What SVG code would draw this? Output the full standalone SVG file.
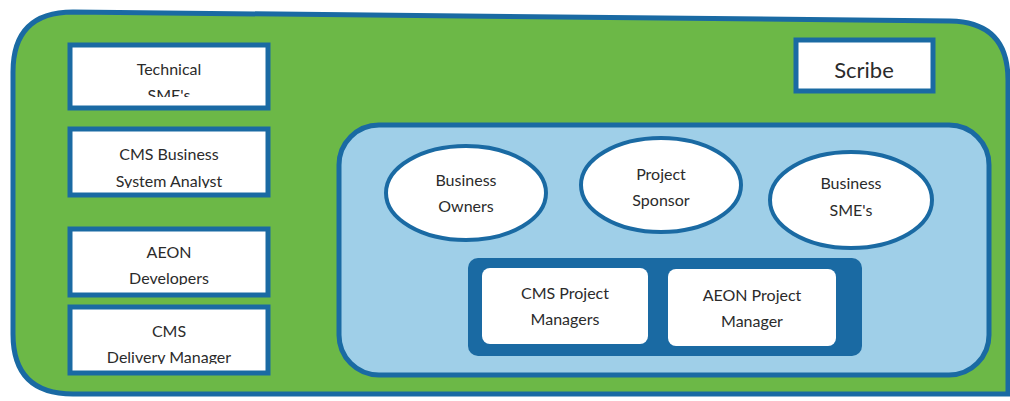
<svg xmlns="http://www.w3.org/2000/svg" width="1010" height="401" viewBox="0 0 1010 401">
  <style>
    .lbl { font-family: Lato, "Open Sans", "Liberation Sans", sans-serif; font-size: 16px; fill: #2b2b2b; text-anchor: middle; }
    .box { fill: #ffffff; }
    .edge { fill: none; stroke: #1a6aa3; stroke-width: 5; }
    .oval { fill: #ffffff; stroke: #1a6aa3; stroke-width: 4; }
  </style>
  <defs>
    <clipPath id="c1"><rect x="70" y="45" width="198" height="52"/></clipPath>
    <clipPath id="c2"><rect x="70" y="129" width="198" height="59"/></clipPath>
    <clipPath id="c3"><rect x="70" y="229" width="198" height="56"/></clipPath>
    <clipPath id="c4"><rect x="70" y="307" width="198" height="57"/></clipPath>
  </defs>
  <rect width="1010" height="401" fill="#ffffff"/>

  <!-- outer team frame -->
  <g id="frame">
    <path d="M73 12 L950 21 Q1008 22 1008 80 L1008 394 L73 394 Q13 394 13 334 L13 72 Q13 12 73 12 Z" fill="#6cb847" stroke="#1a6aa3" stroke-width="5"/>
  </g>

  <!-- left column roles -->
  <g id="technical-smes">
    <rect class="box" x="70" y="45" width="198" height="63"/>
    <g clip-path="url(#c1)">
      <text class="lbl" x="169" y="75">Technical</text>
      <text class="lbl" x="169" y="101">SME's</text>
    </g>
    <rect class="edge" x="70" y="45" width="198" height="63"/>
  </g>
  <g id="cms-business-system-analyst">
    <rect class="box" x="70" y="129" width="198" height="66"/>
    <g clip-path="url(#c2)">
      <text class="lbl" x="169" y="160">CMS Business</text>
      <text class="lbl" x="169" y="187">System Analyst</text>
    </g>
    <rect class="edge" x="70" y="129" width="198" height="66"/>
  </g>
  <g id="aeon-developers">
    <rect class="box" x="70" y="229" width="198" height="66"/>
    <g clip-path="url(#c3)">
      <text class="lbl" x="169" y="258">AEON</text>
      <text class="lbl" x="169" y="284">Developers</text>
    </g>
    <rect class="edge" x="70" y="229" width="198" height="66"/>
  </g>
  <g id="cms-delivery-manager">
    <rect class="box" x="70" y="307" width="198" height="66"/>
    <g clip-path="url(#c4)">
      <text class="lbl" x="169" y="337">CMS</text>
      <text class="lbl" x="169" y="363">Delivery Manager</text>
    </g>
    <rect class="edge" x="70" y="307" width="198" height="66"/>
  </g>

  <!-- scribe -->
  <g id="scribe">
    <rect class="box" x="796" y="40" width="137" height="51"/>
    <rect class="edge" x="796" y="40" width="137" height="51"/>
    <text class="lbl" x="864" y="78" style="font-size:22px">Scribe</text>
  </g>

  <!-- core project group -->
  <g id="core-group">
    <rect x="339" y="125" width="650" height="250" rx="40" fill="#9fcfe8" stroke="#1a6aa3" stroke-width="5"/>
  </g>

  <g id="business-owners">
    <ellipse class="oval" cx="466" cy="193" rx="80" ry="47"/>
    <text class="lbl" x="466" y="186">Business</text>
    <text class="lbl" x="466" y="212">Owners</text>
  </g>
  <g id="project-sponsor">
    <ellipse class="oval" cx="661" cy="185" rx="80" ry="47"/>
    <text class="lbl" x="661" y="180">Project</text>
    <text class="lbl" x="661" y="206">Sponsor</text>
  </g>
  <g id="business-smes">
    <ellipse class="oval" cx="851" cy="200" rx="81" ry="48"/>
    <text class="lbl" x="851" y="189">Business</text>
    <text class="lbl" x="851" y="216">SME's</text>
  </g>

  <!-- project management pair -->
  <g id="pm-band">
    <rect x="468" y="258" width="394" height="98" rx="10" fill="#1a6aa3"/>
  </g>
  <g id="cms-project-managers">
    <rect x="482" y="268" width="166" height="76" rx="8" fill="#ffffff"/>
    <text class="lbl" x="565" y="299">CMS Project</text>
    <text class="lbl" x="565" y="325">Managers</text>
  </g>
  <g id="aeon-project-manager">
    <rect x="668" y="269" width="168" height="77" rx="8" fill="#ffffff"/>
    <text class="lbl" x="752" y="301">AEON Project</text>
    <text class="lbl" x="752" y="327">Manager</text>
  </g>

  <g id="connectors"/>
</svg>
